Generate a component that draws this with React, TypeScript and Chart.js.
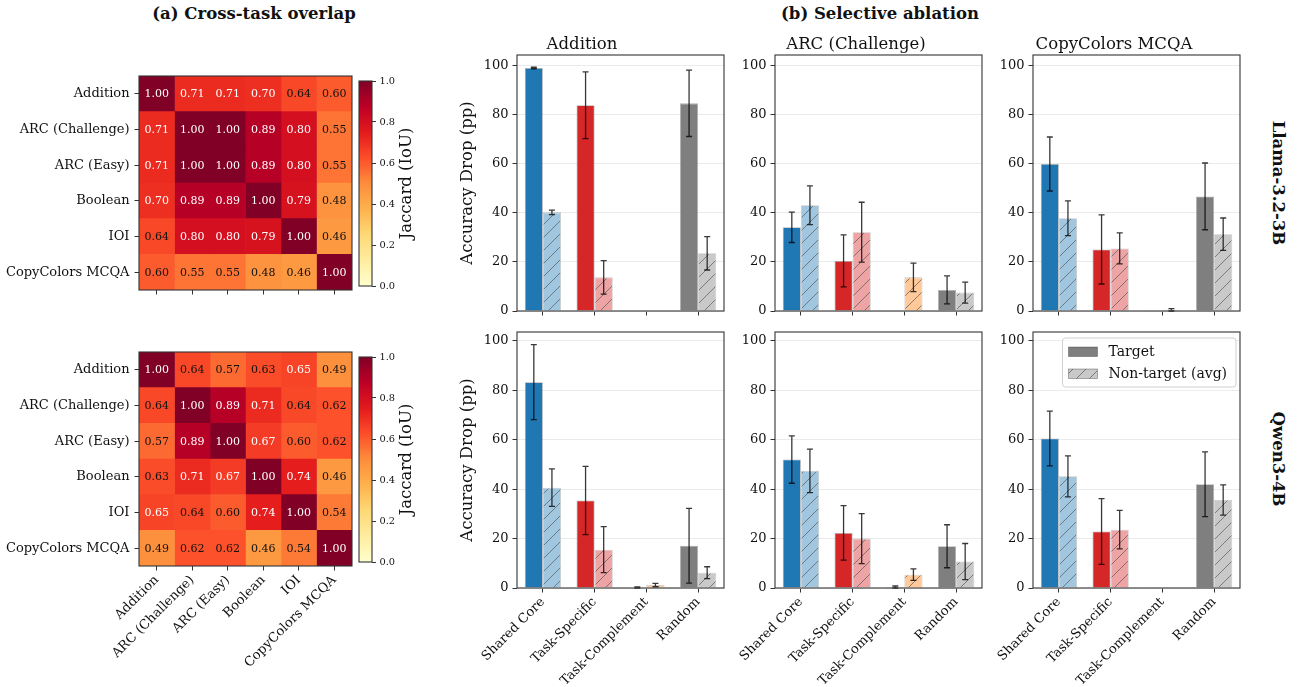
import React, { useEffect, useRef } from 'react';
import { Chart, registerables } from 'chart.js';

Chart.register(...registerables);

const FONT = '"DejaVu Serif", "Liberation Serif", serif';
const TEXT = '#111111';
const SPINE = '#333333';

// ---------- (a) Cross-task overlap ----------
const taskNames = ['Addition', 'ARC (Challenge)', 'ARC (Easy)', 'Boolean', 'IOI', 'CopyColors MCQA'];
const llamaOverlap = [
  [1.0, 0.71, 0.71, 0.7, 0.64, 0.6],
  [0.71, 1.0, 1.0, 0.89, 0.8, 0.55],
  [0.71, 1.0, 1.0, 0.89, 0.8, 0.55],
  [0.7, 0.89, 0.89, 1.0, 0.79, 0.48],
  [0.64, 0.8, 0.8, 0.79, 1.0, 0.46],
  [0.6, 0.55, 0.55, 0.48, 0.46, 1.0],
];
const qwenOverlap = [
  [1.0, 0.64, 0.57, 0.63, 0.65, 0.49],
  [0.64, 1.0, 0.89, 0.71, 0.64, 0.62],
  [0.57, 0.89, 1.0, 0.67, 0.6, 0.62],
  [0.63, 0.71, 0.67, 1.0, 0.74, 0.46],
  [0.65, 0.64, 0.6, 0.74, 1.0, 0.54],
  [0.49, 0.62, 0.62, 0.46, 0.54, 1.0],
];
const jaccardTicks = [0, 0.2, 0.4, 0.6, 0.8, 1.0];
const colorbarRange = [1];

// ---------- (b) Selective ablation ----------
const ablations = ['Shared Core', 'Task-Specific', 'Task-Complement', 'Random'];
const accuracyTicks = [0, 20, 40, 60, 80, 100];
const panelTasks = ['Addition', 'ARC (Challenge)', 'CopyColors MCQA'];
const modelNames = ['Llama-3.2-3B', 'Qwen3-4B'];

const llamaAdditionTarget = [99.0, 83.8, 0.2, 84.6];
const llamaAdditionTargetErr = [0.3, 13.6, 0, 13.5];
const llamaAdditionNon = [40.2, 13.7, 0.2, 23.5];
const llamaAdditionNonErr = [0.9, 6.8, 0, 6.8];

const llamaArcTarget = [34.1, 20.4, 0, 8.6];
const llamaArcTargetErr = [6.2, 10.6, 0, 5.7];
const llamaArcNon = [43.1, 32.1, 13.7, 7.5];
const llamaArcNonErr = [7.9, 12.2, 5.8, 4.3];

const llamaCopyTarget = [59.9, 25.1, 0.1, 46.7];
const llamaCopyTargetErr = [11.0, 14.1, 0, 13.6];
const llamaCopyNon = [37.8, 25.5, 0.5, 31.3];
const llamaCopyNonErr = [7.1, 6.3, 0.5, 6.6];

const qwenAdditionTarget = [83.3, 35.4, 0.2, 17.1];
const qwenAdditionTargetErr = [15.2, 13.8, 0.2, 15.1];
const qwenAdditionNon = [40.6, 15.5, 1.2, 6.2];
const qwenAdditionNonErr = [7.6, 9.3, 0.7, 2.4];

const qwenArcTarget = [52.0, 22.3, 0.4, 16.9];
const qwenArcTargetErr = [9.6, 11.0, 0.4, 8.7];
const qwenArcNon = [47.4, 20.0, 5.4, 10.7];
const qwenArcNonErr = [8.8, 10.1, 2.3, 7.3];

const qwenCopyTarget = [60.5, 22.9, 0.1, 42.0];
const qwenCopyTargetErr = [11.1, 13.3, 0, 13.1];
const qwenCopyNon = [45.2, 23.6, 0.1, 35.6];
const qwenCopyNonErr = [8.3, 7.8, 0, 6.1];

const targetColors = ['#1f77b4', '#d62728', '#ff7f0e', '#7f7f7f'];
const nonTargetColors = ['#a1c6e0', '#eea4a5', '#ffc99a', '#c9c9c9'];

const YLORRD = ['#ffffcc', '#ffeda0', '#fed976', '#feb24c', '#fd8d3c', '#fc4e2a', '#e31a1c', '#bd0026', '#800026'];

function hexToRgb(h: string) {
  return [parseInt(h.slice(1, 3), 16), parseInt(h.slice(3, 5), 16), parseInt(h.slice(5, 7), 16)];
}
function cmap(v: number) {
  const t = Math.max(0, Math.min(1, v)) * (YLORRD.length - 1);
  const i = Math.min(YLORRD.length - 2, Math.floor(t));
  const f = t - i;
  const a = hexToRgb(YLORRD[i]);
  const b = hexToRgb(YLORRD[i + 1]);
  const c = a.map((x, k) => Math.round(x + (b[k] - x) * f));
  return `rgb(${c[0]},${c[1]},${c[2]})`;
}

function hatch(fill: string) {
  const s = 13;
  const c = document.createElement('canvas');
  c.width = s;
  c.height = s;
  const g = c.getContext('2d')!;
  g.fillStyle = fill;
  g.fillRect(0, 0, s, s);
  g.strokeStyle = 'rgba(80,80,80,0.65)';
  g.lineWidth = 1;
  g.beginPath();
  g.moveTo(0, s);
  g.lineTo(s, 0);
  g.moveTo(-s / 2, s / 2);
  g.lineTo(s / 2, -s / 2);
  g.moveTo(s / 2, s * 1.5);
  g.lineTo(s * 1.5, s / 2);
  g.stroke();
  return g.createPattern(c, 'repeat')!;
}

const framePlugin = {
  id: 'frame',
  afterDatasetsDraw(chart: any) {
    const { ctx, chartArea: a } = chart;
    ctx.save();
    ctx.strokeStyle = SPINE;
    ctx.lineWidth = 1.1;
    ctx.strokeRect(a.left, a.top, a.right - a.left, a.bottom - a.top);
    ctx.restore();
  },
};

const cellTextPlugin = {
  id: 'cellText',
  afterDatasetsDraw(chart: any) {
    const ctx = chart.ctx;
    ctx.save();
    ctx.font = `11px ${FONT}`;
    ctx.textAlign = 'center';
    ctx.textBaseline = 'middle';
    chart.data.datasets.forEach((ds: any, di: number) => {
      chart.getDatasetMeta(di).data.forEach((el: any, ri: number) => {
        const v = ds.jaccard[ri];
        const p = el.getCenterPoint();
        ctx.fillStyle = v > 0.645 ? '#ffffff' : '#111111';
        ctx.fillText(v.toFixed(2), p.x, p.y + 0.5);
      });
    });
    ctx.restore();
  },
};

const errorBarPlugin = {
  id: 'errorBars',
  afterDatasetsDraw(chart: any) {
    const ctx = chart.ctx;
    const y = chart.scales.y;
    ctx.save();
    ctx.strokeStyle = 'rgba(0,0,0,0.78)';
    ctx.lineWidth = 1.3;
    chart.data.datasets.forEach((ds: any, di: number) => {
      if (!ds.errors) return;
      chart.getDatasetMeta(di).data.forEach((el: any, i: number) => {
        const e = ds.errors[i];
        if (!e) return;
        const v = ds.data[i];
        const x = el.x;
        const yt = y.getPixelForValue(v + e);
        const yb = y.getPixelForValue(v - e);
        ctx.beginPath();
        ctx.moveTo(x, yt);
        ctx.lineTo(x, yb);
        ctx.moveTo(x - 3, yt);
        ctx.lineTo(x + 3, yt);
        ctx.moveTo(x - 3, yb);
        ctx.lineTo(x + 3, yb);
        ctx.stroke();
      });
    });
    ctx.restore();
  },
};

const legendPlugin = {
  id: 'insideLegend',
  afterDraw(chart: any) {
    const { ctx, chartArea: a } = chart;
    const ds = chart.data.datasets;
    const bx = a.right - 177.5;
    const by = a.top + 6;
    ctx.save();
    ctx.beginPath();
    ctx.roundRect(bx, by, 173.5, 49, 3);
    ctx.fillStyle = 'rgba(255,255,255,0.85)';
    ctx.fill();
    ctx.strokeStyle = '#d0d0d0';
    ctx.lineWidth = 1;
    ctx.stroke();
    const swatches = [
      { fill: '#7f7f7f', label: ds[0].label },
      { fill: hatch('#c9c9c9'), label: ds[1].label },
    ];
    ctx.font = `14px ${FONT}`;
    ctx.textBaseline = 'middle';
    ctx.textAlign = 'left';
    swatches.forEach((s, i) => {
      const sy = by + 9 + i * 22;
      ctx.fillStyle = s.fill as any;
      ctx.fillRect(bx + 6, sy, 29, 9.5);
      ctx.strokeStyle = 'rgba(30,30,30,0.4)';
      ctx.lineWidth = 0.8;
      ctx.strokeRect(bx + 6, sy, 29, 9.5);
      ctx.fillStyle = TEXT;
      ctx.fillText(s.label, bx + 46, sy + 5);
    });
    ctx.restore();
  },
};

const jaccardLabelPlugin = {
  id: 'jaccardLabel',
  afterDraw(chart: any) {
    const { ctx, chartArea: a } = chart;
    ctx.save();
    ctx.translate(a.right + 35, (a.top + a.bottom) / 2);
    ctx.rotate(-Math.PI / 2);
    ctx.font = `16.5px ${FONT}`;
    ctx.fillStyle = TEXT;
    ctx.textAlign = 'center';
    ctx.textBaseline = 'middle';
    ctx.fillText('Jaccard (IoU)', 0, 0);
    ctx.restore();
  },
};

function heatmapConfig(matrix: number[][], showXLabels: boolean, xAxisH: number) {
  return {
    type: 'bar',
    data: {
      labels: taskNames,
      datasets: taskNames.map((col, j) => ({
        label: col,
        data: matrix.map(() => 1),
        jaccard: matrix.map((row) => row[j]),
        backgroundColor: matrix.map((row) => cmap(row[j])),
        borderWidth: 0,
        barPercentage: 1,
        categoryPercentage: 1,
      })),
    },
    options: {
      indexAxis: 'y',
      responsive: false,
      animation: false,
      events: [],
      layout: { padding: { top: 4, right: 4, left: 0, bottom: 0 } },
      plugins: { legend: { display: false }, tooltip: { enabled: false } },
      scales: {
        x: {
          type: 'linear',
          stacked: true,
          min: 0,
          max: taskNames.length,
          afterBuildTicks: (s: any) => {
            s.ticks = taskNames.map((_, i) => ({ value: i + 0.5 }));
          },
          ticks: {
            autoSkip: false,
            minRotation: 45,
            maxRotation: 45,
            padding: 2,
            font: { family: FONT, size: 13 },
            color: TEXT,
            callback: (v: any) => (showXLabels ? taskNames[Math.floor(Number(v))] : ''),
          },
          grid: { drawOnChartArea: false, tickLength: 4.5, tickColor: SPINE, tickWidth: 1 },
          border: { display: false },
          afterFit: (s: any) => {
            s.height = xAxisH;
            s.paddingLeft = 0;
            s.paddingRight = 0;
          },
        },
        y: {
          type: 'category',
          stacked: true,
          ticks: { font: { family: FONT, size: 13 }, color: TEXT, padding: 5 },
          grid: { drawOnChartArea: false, offset: false, tickLength: 4.5, tickColor: SPINE, tickWidth: 1 },
          border: { display: false },
          afterFit: (s: any) => {
            s.width = 139;
            s.paddingTop = 0;
            s.paddingBottom = 0;
          },
        },
      },
    },
    plugins: [cellTextPlugin, framePlugin],
  };
}

function colorbarConfig() {
  return {
    type: 'bar',
    data: {
      labels: [''],
      datasets: [
        {
          data: colorbarRange,
          borderWidth: 0,
          barPercentage: 1,
          categoryPercentage: 1,
          backgroundColor: (c: any) => {
            const a = c.chart.chartArea;
            if (!a) return YLORRD[4];
            const g = c.chart.ctx.createLinearGradient(0, a.bottom, 0, a.top);
            YLORRD.forEach((col, i) => g.addColorStop(i / (YLORRD.length - 1), col));
            return g;
          },
        },
      ],
    },
    options: {
      responsive: false,
      animation: false,
      events: [],
      layout: { padding: { top: 6, right: 0, left: 2, bottom: 6 } },
      plugins: { legend: { display: false }, tooltip: { enabled: false } },
      scales: {
        x: { display: false },
        y: {
          position: 'right',
          min: 0,
          max: 1,
          afterBuildTicks: (s: any) => {
            s.ticks = jaccardTicks.map((v) => ({ value: v }));
          },
          ticks: {
            font: { family: FONT, size: 9.8 },
            color: TEXT,
            padding: 3.5,
            callback: (v: any) => Number(v).toFixed(1),
          },
          grid: { drawOnChartArea: false, tickLength: 4, tickColor: SPINE, tickWidth: 1 },
          border: { display: false },
          afterFit: (s: any) => {
            s.width = 60;
            s.paddingTop = 0;
            s.paddingBottom = 0;
          },
        },
      },
    },
    plugins: [framePlugin, jaccardLabelPlugin],
  };
}

type Panel = { target: number[]; targetErr: number[]; non: number[]; nonErr: number[] };
const panelRows: Panel[][] = [
  [
    { target: llamaAdditionTarget, targetErr: llamaAdditionTargetErr, non: llamaAdditionNon, nonErr: llamaAdditionNonErr },
    { target: llamaArcTarget, targetErr: llamaArcTargetErr, non: llamaArcNon, nonErr: llamaArcNonErr },
    { target: llamaCopyTarget, targetErr: llamaCopyTargetErr, non: llamaCopyNon, nonErr: llamaCopyNonErr },
  ],
  [
    { target: qwenAdditionTarget, targetErr: qwenAdditionTargetErr, non: qwenAdditionNon, nonErr: qwenAdditionNonErr },
    { target: qwenArcTarget, targetErr: qwenArcTargetErr, non: qwenArcNon, nonErr: qwenArcNonErr },
    { target: qwenCopyTarget, targetErr: qwenCopyTargetErr, non: qwenCopyNon, nonErr: qwenCopyNonErr },
  ],
];
const rowMax = [104.3, 103.6];

function barConfig(p: Panel, o: { title: string | null; yTitle: boolean; xLabels: boolean; legend: boolean; yMax: number; xAxisH: number; yAxisW: number; padTop: number }) {
  return {
    type: 'bar',
    data: {
      labels: ablations,
      datasets: [
        {
          label: 'Target',
          data: p.target,
          errors: p.targetErr,
          backgroundColor: targetColors,
          borderColor: 'rgba(30,30,30,0.35)',
          borderWidth: 0.8,
          categoryPercentage: 0.7,
          barPercentage: 1,
        },
        {
          label: 'Non-target (avg)',
          data: p.non,
          errors: p.nonErr,
          backgroundColor: nonTargetColors.map((c) => hatch(c)),
          borderColor: 'rgba(30,30,30,0.25)',
          borderWidth: 0.8,
          categoryPercentage: 0.7,
          barPercentage: 1,
        },
      ],
    },
    options: {
      responsive: false,
      animation: false,
      events: [],
      layout: { padding: { top: o.padTop, right: 4, left: 0, bottom: 0 } },
      plugins: {
        legend: { display: false },
        tooltip: { enabled: false },
        title: {
          display: !!o.title,
          text: o.title || '',
          color: TEXT,
          font: { family: FONT, size: 16.5, weight: 'normal', lineHeight: '20px' },
          padding: { top: 2, bottom: 0 },
        },
      },
      scales: {
        x: {
          ticks: {
            autoSkip: false,
            minRotation: 45,
            maxRotation: 45,
            padding: 2,
            font: { family: FONT, size: 13 },
            color: TEXT,
            callback: (v: any) => (o.xLabels ? ablations[Number(v)] : ''),
          },
          grid: { drawOnChartArea: false, offset: false, tickLength: 4.5, tickColor: SPINE, tickWidth: 1 },
          border: { display: false },
          afterFit: (s: any) => {
            s.height = o.xAxisH;
            s.paddingLeft = 0;
            s.paddingRight = 0;
          },
        },
        y: {
          min: 0,
          max: o.yMax,
          afterBuildTicks: (s: any) => {
            s.ticks = accuracyTicks.map((v) => ({ value: v }));
          },
          ticks: { font: { family: FONT, size: 13 }, color: TEXT, padding: 4, callback: (v: any) => String(v) },
          grid: { color: '#e6e6e6', lineWidth: 0.8, tickLength: 4.5, tickColor: SPINE, tickWidth: 1 },
          border: { display: false },
          title: {
            display: o.yTitle,
            text: 'Accuracy Drop (pp)',
            color: TEXT,
            font: { family: FONT, size: 16.5 },
            padding: { top: 18, bottom: 0 },
          },
          afterFit: (s: any) => {
            s.width = o.yAxisW;
            s.paddingTop = 0;
            s.paddingBottom = 0;
          },
        },
      },
    },
    plugins: o.legend ? [errorBarPlugin, framePlugin, legendPlugin] : [errorBarPlugin, framePlugin],
  };
}

function ChartBox({ left, top, width, height, make }: { left: number; top: number; width: number; height: number; make: () => any }) {
  const ref = useRef<HTMLCanvasElement>(null);
  useEffect(() => {
    const chart = new Chart(ref.current as HTMLCanvasElement, make());
    return () => chart.destroy();
  }, []);
  return (
    <canvas
      ref={ref}
      width={width}
      height={height}
      style={{ position: 'absolute', left, top, width, height }}
    />
  );
}

const colPlotLeft = [517, 775, 1033];
const colAxisW = [77, 45, 45];
const plotW = 207;
const plotH = 256;

export default function App() {
  const textBase: React.CSSProperties = {
    position: 'absolute',
    fontFamily: FONT,
    color: TEXT,
    whiteSpace: 'nowrap',
    transform: 'translate(-50%, -50%)',
  };
  return (
    <div style={{ position: 'fixed', left: 0, top: 0, width: 1297, height: 687, background: '#ffffff', overflow: 'hidden' }}>
      <div style={{ ...textBase, left: 254, top: 13, fontSize: 16.5, fontWeight: 'bold' }}>(a) Cross-task overlap</div>
      <div style={{ ...textBase, left: 880, top: 13, fontSize: 16.5, fontWeight: 'bold' }}>(b) Selective ablation</div>

      <ChartBox left={0} top={72} width={356} height={4 + 214 + 10} make={() => heatmapConfig(llamaOverlap, false, 10)} />
      <ChartBox left={0} top={348} width={356} height={4 + 214 + 121} make={() => heatmapConfig(qwenOverlap, true, 121)} />
      <ChartBox left={357} top={75} width={75} height={217} make={() => colorbarConfig()} />
      <ChartBox left={357} top={351} width={75} height={217} make={() => colorbarConfig()} />

      {panelRows.map((row, r) =>
        row.map((p, c) => {
          const isTop = r === 0;
          const padTop = isTop ? 4 : 8;
          const titleH = isTop ? 22 : 0;
          const xAxisH = isTop ? 8 : 99;
          const top = (isTop ? 55 : 332) - padTop - titleH;
          const left = colPlotLeft[c] - colAxisW[c];
          return (
            <ChartBox
              key={`${r}-${c}`}
              left={left}
              top={top}
              width={colAxisW[c] + plotW + 4}
              height={padTop + titleH + plotH + xAxisH}
              make={() =>
                barConfig(p, {
                  title: isTop ? panelTasks[c] : null,
                  yTitle: c === 0,
                  xLabels: !isTop,
                  legend: r === 1 && c === 2,
                  yMax: rowMax[r],
                  xAxisH,
                  yAxisW: colAxisW[c],
                  padTop,
                })
              }
            />
          );
        })
      )}

      <div style={{ ...textBase, left: 1278, top: 183, fontSize: 16.5, fontWeight: 'bold', transform: 'translate(-50%, -50%) rotate(90deg)' }}>
        {modelNames[0]}
      </div>
      <div style={{ ...textBase, left: 1278, top: 459, fontSize: 16.5, fontWeight: 'bold', transform: 'translate(-50%, -50%) rotate(90deg)' }}>
        {modelNames[1]}
      </div>
    </div>
  );
}
